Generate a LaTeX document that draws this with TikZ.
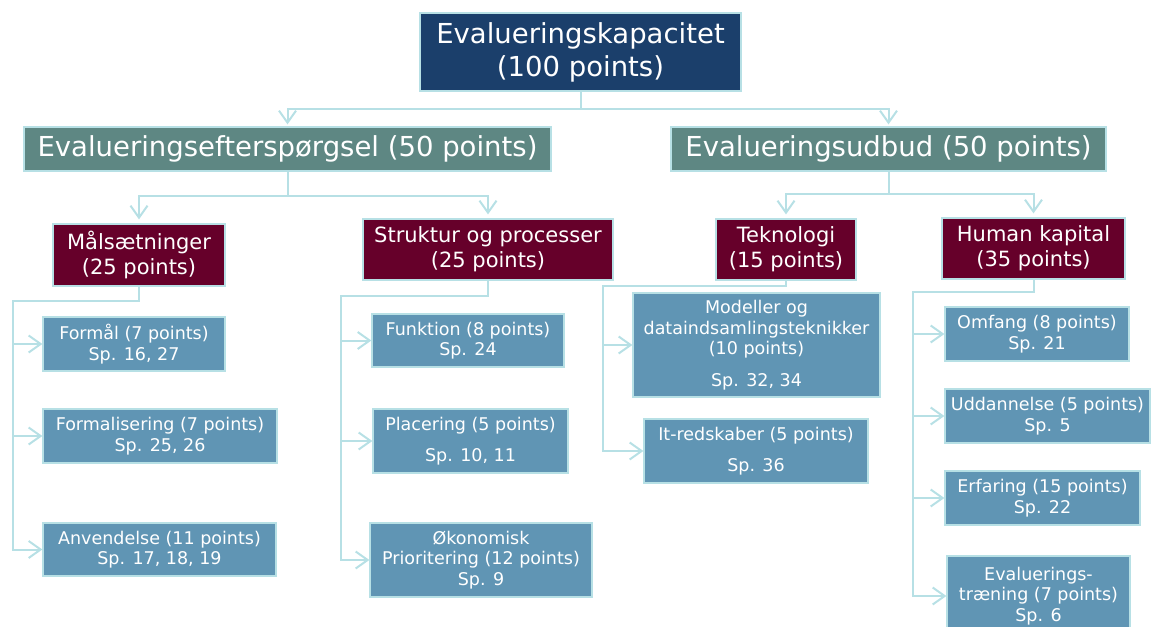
\documentclass[tikz,border=0pt]{standalone}
\usepackage{fontspec}
\setmainfont{DejaVu Sans}
\usetikzlibrary{arrows.meta}

\definecolor{topblue}{RGB}{27,63,107}
\definecolor{teal2}{RGB}{94,135,131}
\definecolor{maroon3}{RGB}{102,0,42}
\definecolor{steel4}{RGB}{96,149,180}
\definecolor{connc}{RGB}{183,224,229}

\begin{document}
\begin{tikzpicture}[x=1pt,y=1pt,
  box/.style={rectangle,draw=connc,line width=1.2pt,text=white,align=center,inner sep=0pt},
  lvlone/.style={box,fill=topblue,font=\fontsize{27.5}{33}\selectfont},
  lvltwo/.style={box,fill=teal2,font=\fontsize{27.5}{33}\selectfont},
  lvlthree/.style={box,fill=maroon3,font=\fontsize{21}{25}\selectfont},
  lvlfour/.style={box,fill=steel4,font=\fontsize{17.5}{20.5}\selectfont},
  conn/.style={draw=connc,line width=2pt,-{Straight Barb[length=12pt,width=17pt]}}]

\useasboundingbox (0,0) rectangle (1153,-626);

% top
\node[lvlone,minimum width=321,minimum height=78] (evalkap) at (580.5,-52) {Evalueringskapacitet\\(100 points)};

% second level
\node[lvltwo,minimum width=527,minimum height=44] (demand) at (287.5,-149) {Evalueringsefterspørgsel (50 points)};
\node[lvltwo,minimum width=435,minimum height=44] (supply) at (888.5,-149) {Evalueringsudbud (50 points)};

% third level
\node[lvlthree,minimum width=172,minimum height=62] (malsaet) at (139,-255) {Målsætninger\\(25 points)};
\node[lvlthree,minimum width=250,minimum height=61] (struktur) at (488,-249.5) {Struktur og processer\\(25 points)};
\node[lvlthree,minimum width=140,minimum height=61] (tekno) at (786,-249.5) {Teknologi\\(15 points)};
\node[lvlthree,minimum width=183,minimum height=61] (human) at (1033.5,-248.5) {Human kapital\\(35 points)};

% fourth level - maalsaetninger
\node[lvlfour,minimum width=182,minimum height=54] (formaal) at (134,-344) {Formål (7 points)\\Sp. 16, 27};
\node[lvlfour,minimum width=234,minimum height=54] (formal) at (160,-436) {Formalisering (7 points)\\Sp. 25, 26};
\node[lvlfour,minimum width=233,minimum height=53] (anvend) at (159.5,-549.5) {Anvendelse (11 points)\\Sp. 17, 18, 19};

% fourth level - struktur
\node[lvlfour,minimum width=192,minimum height=53] (funktion) at (468,-340.5) {Funktion (8 points)\\Sp. 24};
\node[lvlfour,minimum width=195,minimum height=64] (placering) at (470.5,-441) {Placering (5 points)\\[11pt]Sp. 10, 11};
\node[lvlfour,minimum width=222,minimum height=74] (okonom) at (481,-560) {Økonomisk\\Prioritering (12 points)\\Sp. 9};

% fourth level - teknologi
\node[lvlfour,minimum width=247,minimum height=104] (modeller) at (756.5,-345) {Modeller og\\dataindsamlingsteknikker\\(10 points)\\[11pt]Sp. 32, 34};
\node[lvlfour,minimum width=224,minimum height=64] (itred) at (756,-451) {It-redskaber (5 points)\\[11pt]Sp. 36};

% fourth level - human kapital
\node[lvlfour,minimum width=184,minimum height=54] (omfang) at (1037,-334) {Omfang (8 points)\\Sp. 21};
\node[lvlfour,minimum width=205,minimum height=54] (uddan) at (1047.5,-416) {Uddannelse (5 points)\\Sp. 5};
\node[lvlfour,minimum width=195,minimum height=54] (erfaring) at (1042.5,-498) {Erfaring (15 points)\\Sp. 22};
\node[lvlfour,minimum width=183,minimum height=80] (evaltraen) at (1038.5,-596) {Evaluerings-\\træning (7 points)\\Sp. 6};

% junctions
\coordinate (jtop) at (580.5,-109);
\coordinate (jdem) at (287.5,-196);
\coordinate (jsup) at (888.5,-194);
\coordinate (bmal) at (13,-301);
\coordinate (bstr) at (341,-296);
\coordinate (btek) at (603,-286);
\coordinate (bhum) at (913,-292);

% connectors
\draw[conn,shorten >=2pt] (evalkap.south) -- (jtop) -| (demand.north);
\draw[conn,shorten >=2pt] (evalkap.south) -- (jtop) -| (supply.north);
\draw[conn,shorten >=4pt] (demand.south) -- (jdem) -| (malsaet.north);
\draw[conn,shorten >=4pt] (demand.south) -- (jdem) -| (struktur.north);
\draw[conn,shorten >=4pt] (supply.south) -- (jsup) -| (tekno.north);
\draw[conn,shorten >=4pt] (supply.south) -- (jsup) -| (human.north);

\foreach \c in {formaal,formal,anvend}
  \draw[conn] (malsaet.south) |- (bmal) |- (\c.west);
\foreach \c in {funktion,placering,okonom}
  \draw[conn] (struktur.south) |- (bstr) |- (\c.west);
\foreach \c in {modeller,itred}
  \draw[conn] (tekno.south) |- (btek) |- (\c.west);
\foreach \c in {omfang,uddan,erfaring,evaltraen}
  \draw[conn] (human.south) |- (bhum) |- (\c.west);

\end{tikzpicture}
\end{document}
